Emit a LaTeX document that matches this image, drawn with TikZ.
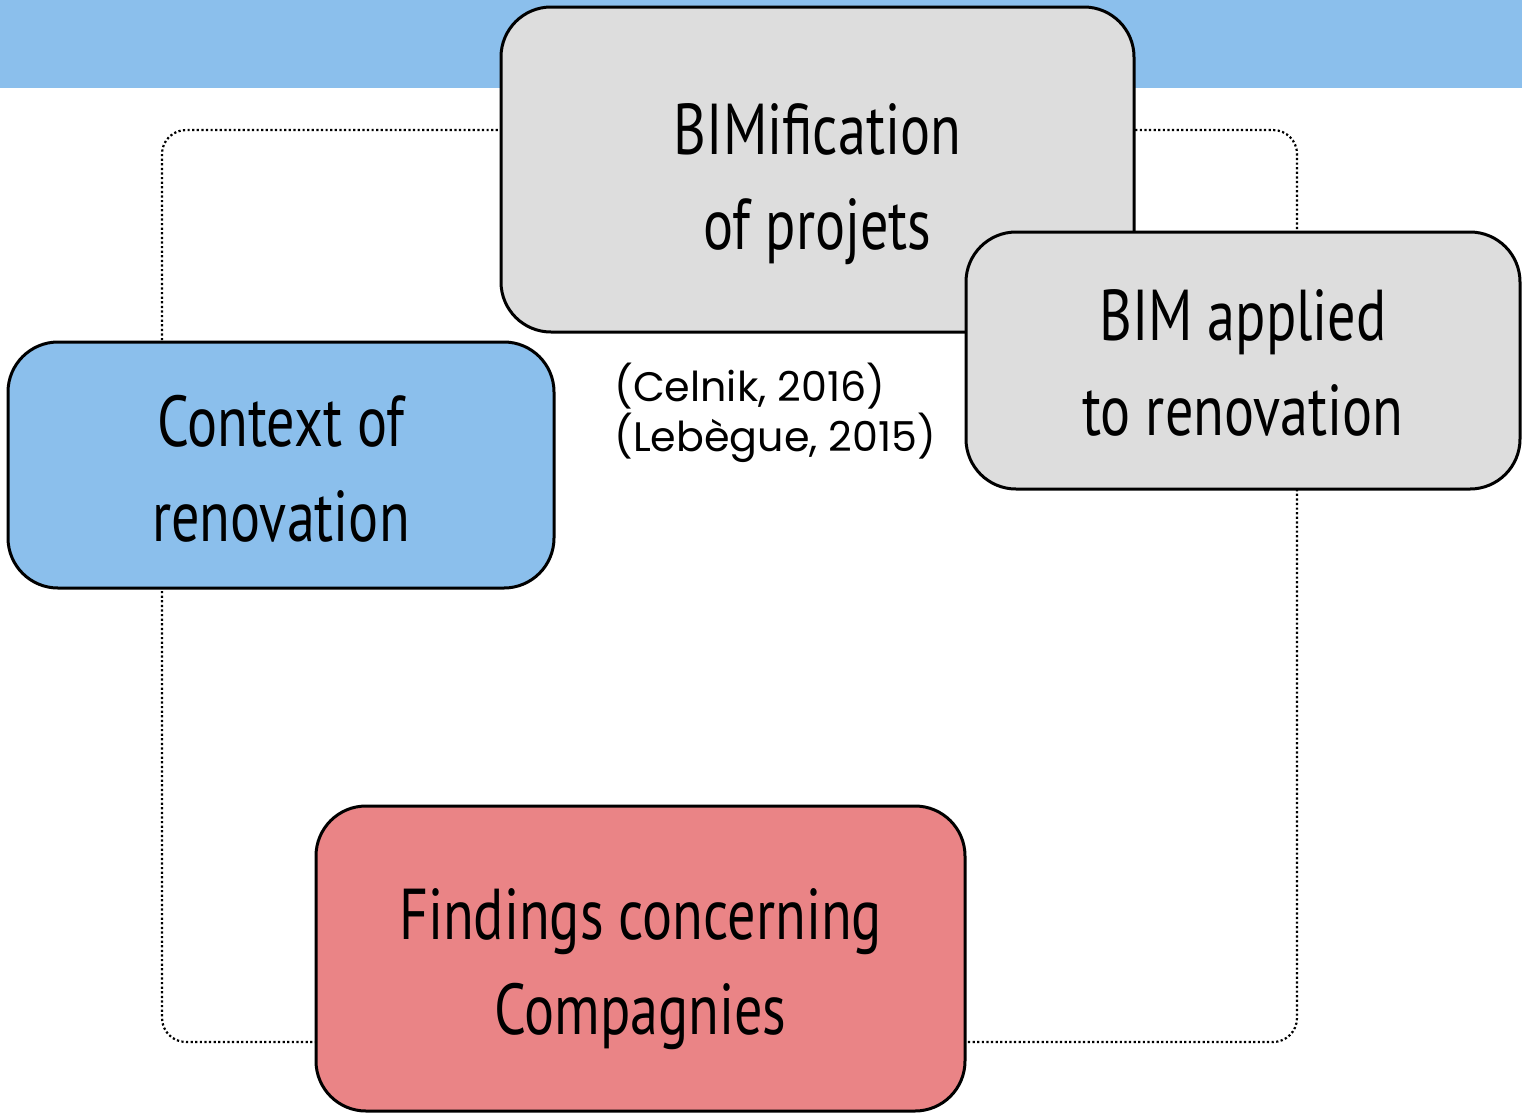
\documentclass[tikz,border=0pt]{standalone}
\usepackage{fontspec}
\setmainfont{PT Sans}[FakeStretch=0.78]
\newfontfamily\citefont{Poppins}
\usepackage{tikz}
\definecolor{bandblue}{HTML}{8BBFEC}
\definecolor{boxgray}{HTML}{DDDDDD}
\definecolor{boxred}{HTML}{EA8486}
\newcommand{\boxlines}[2]{\raisebox{#1}[\height][\depth]{\begin{tabular}{@{}c@{}}#2\end{tabular}}}

\begin{document}
\begin{tikzpicture}[x=0.5pt,y=-0.5pt,
  theme/.style={draw=black, line width=1.5pt, rounded corners=25pt,
    align=center, inner sep=0pt,
    font=\fontsize{36}{47.5}\selectfont}]
\useasboundingbox (0,0) rectangle (1522,1115);
\coordinate (bimpos) at (817.5,169.5);
\coordinate (applpos) at (1243,360.5);
\coordinate (ctxpos) at (281,465);
\coordinate (findpos) at (640.5,958.5);
% band and frame
\fill[bandblue] (0,0) rectangle (1522,88);
\draw[black, line width=1.1pt, dash pattern=on 1.1pt off 1.2pt, rounded corners=12pt] (162,130) rectangle (1297,1042);

\node[theme, fill=boxgray, minimum width=316.5pt, minimum height=162.5pt] (bimif) at (bimpos) {\boxlines{-6.5pt}{BIMification\\of projets}};
\node[theme, fill=boxgray, minimum width=277pt, minimum height=128.5pt] (applied) at (applpos) {\boxlines{-4pt}{BIM applied\\to renovation}};
\node[theme, fill=bandblue, minimum width=273pt, minimum height=123pt] (context) at (ctxpos) {\boxlines{-5pt}{Context of\\renovation}};
\node[theme, fill=boxred, minimum width=324.5pt, minimum height=152.5pt] (findings) at (findpos) {\boxlines{-4.5pt}{Findings concerning\\Compagnies}};
\node[anchor=west, align=left, inner sep=0pt, font=\citefont\fontsize{20.6}{25}\selectfont] (cite) at (614,413) {(Celnik, 2016)\\(Lebègue, 2015)};
\end{tikzpicture}
\end{document}
